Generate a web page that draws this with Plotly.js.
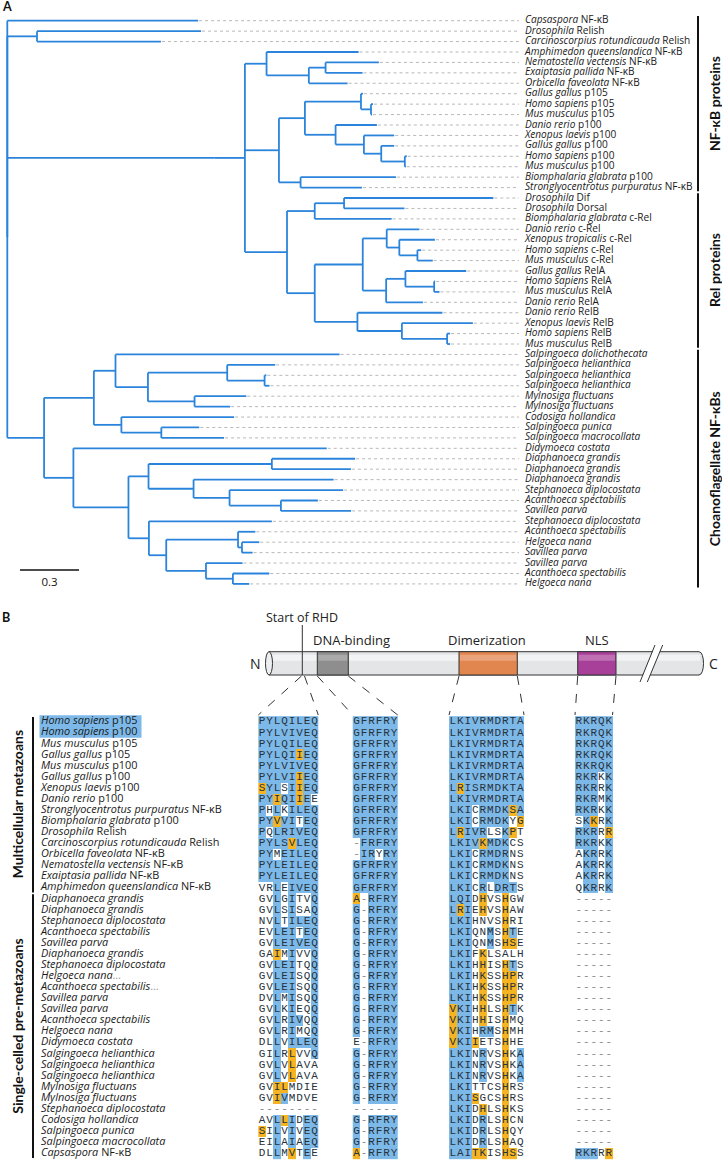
<!DOCTYPE html>
<html><head><meta charset="utf-8">
<script src="https://cdn.plot.ly/plotly-3.0.1.min.js"></script>
<style>html,body{margin:0;padding:0;background:#fff}#chart{width:722px;height:1160px}</style>
</head><body><div id="chart"></div>
<script>
// ---------------- DATA ----------------
// Tree (Newick, branch lengths in substitutions/site; leaf names = row index of tipLabels)
const cladeRelish = "(1:0.834,2:0.630)";
const cladeNFkB = "((3:0.468,((4:0.271,5:0.188):0.085,6:0.197):0.215):0.110,((((7:0.010,(8:0.010,9:0.005):0.051):0.285,(10:0.210,(11:0.154,(12:0.066,(13:0.010,14:0.005):0.120):0.088):0.144):0.156):0.132,(15:0.485,16:0.312):0.110):0.051)";
const cladeRel = "(((17:0.759,18:0.307):0.149,19:0.391):0.141,(((20:0.166,(21:0.181,(22:0.019,23:0.078):0.092):0.064):0.122,((24:0.309,(25:0.005,26:0.027):0.146):0.098,27:0.187):0.119):0.244,(28:0.432,(29:0.361,(30:0.015,31:0.015):0.230):0.226):0.217):0.141)";
const cladeChoanoA = "((32:1.139,((33:0.244,(34:0.009,35:0.025):0.190):0.403,(36:0.263,37:0.181):0.237):0.165):0.110,(38:0.573,(39:0.193,40:0.319):0.203):0.140)";
const cladeChoanoB = "(41:1.288,(((42:0.423,43:0.402):0.627,(44:0.712,(45:0.577,(46:0.188,47:0.357):0.261):0.183):0.229):0.102,(48:0.625,((49:0.088,(50:0.088,51:0.054):0.020):0.365,(52:0.186,(53:0.185,54:0.083):0.137):0.202):0.088):0.104):0.280)";
const treeNewick = "(0:0.970,(" + cladeRelish + ":0.151,(" + cladeNFkB + ":0.122," + cladeRel + ":0.214):0.156):1.052,(" + cladeChoanoA + ":0.253," + cladeChoanoB + ":0.149):0.187);";

const tipLabels = [
 "<i>Capsaspora</i> NF-κB","<i>Drosophila</i> Relish","<i>Carcinoscorpius rotundicauda</i> Relish",
 "<i>Amphimedon queenslandica</i> NF-κB","<i>Nematostella vectensis</i> NF-κB","<i>Exaiptasia pallida</i> NF-κB",
 "<i>Orbicella faveolata</i> NF-κB","<i>Gallus gallus</i> p105","<i>Homo sapiens</i> p105","<i>Mus musculus</i> p105",
 "<i>Danio rerio</i> p100","<i>Xenopus laevis</i> p100","<i>Gallus gallus</i> p100","<i>Homo sapiens</i> p100",
 "<i>Mus musculus</i> p100","<i>Biomphalaria glabrata</i> p100","<i>Stronglyocentrotus purpuratus</i> NF-κB",
 "<i>Drosophila</i> Dif","<i>Drosophila</i> Dorsal","<i>Biomphalaria glabrata</i> c-Rel","<i>Danio rerio</i> c-Rel",
 "<i>Xenopus tropicalis</i> c-Rel","<i>Homo sapiens</i> c-Rel","<i>Mus musculus</i> c-Rel","<i>Gallus gallus</i> RelA",
 "<i>Homo sapiens</i> RelA","<i>Mus musculus</i> RelA","<i>Danio rerio</i> RelA","<i>Danio rerio</i> RelB",
 "<i>Xenopus laevis</i> RelB","<i>Homo sapiens</i> RelB","<i>Mus musculus</i> RelB",
 "<i>Salpingoeca dolichothecata</i>","<i>Salpingoeca helianthica</i>","<i>Salpingoeca helianthica</i>","<i>Salpingoeca helianthica</i>",
 "<i>Mylnosiga fluctuans</i>","<i>Mylnosiga fluctuans</i>","<i>Codosiga hollandica</i>","<i>Salpingoeca punica</i>",
 "<i>Salpingoeca macrocollata</i>","<i>Didymoeca costata</i>","<i>Diaphanoeca grandis</i>","<i>Diaphanoeca grandis</i>",
 "<i>Diaphanoeca grandis</i>","<i>Stephanoeca diplocostata</i>","<i>Acanthoeca spectabilis</i>","<i>Savillea parva</i>",
 "<i>Stephanoeca diplocostata</i>","<i>Acanthoeca spectabilis</i>","<i>Helgoeca nana</i>","<i>Savillea parva</i>",
 "<i>Savillea parva</i>","<i>Acanthoeca spectabilis</i>","<i>Helgoeca nana</i>"
];
const treeGroups = ["NF-κB proteins","Rel proteins","Choanoflagellate NF-κBs"];
const treeGroupFirst = [0,17,32];
const treeGroupLast = [16,31,54];
const scaleBarValue = 0.3;

// Alignment
const alignNames = [
 "<i>Homo sapiens</i> p105","<i>Homo sapiens</i> p100","<i>Mus musculus</i> p105","<i>Gallus gallus</i> p105",
 "<i>Mus musculus</i> p100","<i>Gallus gallus</i> p100","<i>Xenopus laevis</i> p100","<i>Danio rerio</i> p100",
 "<i>Stronglyocentrotus purpuratus</i> NF-κB","<i>Biomphalaria glabrata</i> p100","<i>Drosophila</i> Relish",
 "<i>Carcinoscorpius rotundicauda</i> Relish","<i>Orbicella faveolata</i> NF-κB","<i>Nematostella vectensis</i> NF-κB",
 "<i>Exaiptasia pallida</i> NF-κB","<i>Amphimedon queenslandica</i> NF-κB",
 "<i>Diaphanoeca grandis</i>","<i>Diaphanoeca grandis</i>","<i>Stephanoeca diplocostata</i>","<i>Acanthoeca spectabilis</i>",
 "<i>Savillea parva</i>","<i>Diaphanoeca grandis</i>","<i>Stephanoeca diplocostata</i>","<i>Helgoeca nana</i><span style='color:#999'>…</span>",
 "<i>Acanthoeca spectabilis</i><span style='color:#999'>…</span>","<i>Savillea parva</i>","<i>Savillea parva</i>","<i>Acanthoeca spectabilis</i>",
 "<i>Helgoeca nana</i>","<i>Didymoeca costata</i>","<i>Salgingoeca helianthica</i>","<i>Salgingoeca helianthica</i>",
 "<i>Salgingoeca helianthica</i>","<i>Mylnosiga fluctuans</i>","<i>Mylnosiga fluctuans</i>","<i>Stephanoeca diplocostata</i>",
 "<i>Codosiga hollandica</i>","<i>Salpingoeca punica</i>","<i>Salpingoeca macrocollata</i>","<i>Capsaspora</i> NF-κB"
];
const highlightedNames = [0,1];
const alignGroups = ["Multicellular metazoans","Single-celled pre-metazoans"];
const alignGroupFirst = [0,16];
const alignGroupLast = [15,39];

const seqRHD = ["PYLQILEQ","PYLVIVEQ","PYLQILEQ","PYLQIIEQ","PYLVIVEQ","PYLVIIEQ","SYLSIIEQ","PYIQIIEE","PHLKILEQ","PYVVITEQ",
 "PQLRIVEQ","PYLSVLEQ","PYMEILEQ","PYLEILEQ","PYLEILEQ","VRLEIVEQ","GVLGITVQ","GVLSISAQ","NVLTILEQ","EVLEITEQ",
 "GVLEIVEQ","GAIMIVVQ","GVLEITQQ","GVLEISQQ","GVLEISQQ","DVLMISQQ","GVLKIEQQ","GVLRIVQQ","GVLRIMQQ","DLLVILEQ",
 "GILRLVVQ","GVLVLAVA","GVLVLAVA","GVILMDIE","GVIVMDVE","--------","AVLLIDEQ","SILVIVEQ","EILAIAEQ","DLLMVTEE"];
const hlRHD = ["bbbbbbbb","bbbbbbbb","bbbbbbbb","bbbbbobb","bbbbbbbb","bbbbbobb","obb.bobb","bbobbob.","b.b.bbbb","bbobb.bb",
 "b.bbbbbb","bbbbobbb","bb.bbbbb","bbbbbbbb","bbbbbbbb","..b.bbbb","..b.b..b","..b.b..b","..b.bbbb","..bbb.bb",
 "..bbbbbb","..o.b..b","..bbb..b","..bbb..b","..bbb..b","..b.b..b","..b.b..b","..b.bb.b","..b.b..b","..b.bbbb",
 "..b.o..b","..b.o...","..b.o...","..oo....","..ob....","........","..bob.bb","o.b.b.bb","..b.b.bb","..b.o.b."];

const seqDNA = ["GFRFRY","GFRFRY","GFRFRY","GFRFRY","GFRFRY","GFRFRY","GFRFRY","GFRFRY","GFRFRY","GFRFRY",
 "GFRFRY","-FRFRY","-IRYRY","GFRFRY","GFRFRY","GFRFRY","A-RFRY","G-RFRY","G-RFRY","G-RFRY",
 "G-RFRY","G-RFRY","G-RFRY","G-RFRY","G-RFRY","G-RFRY","G-RFRY","G-RFRY","G-RFRY","E-RFRY",
 "G-RFRY","G-RFRY","G-RFRY","G-RFRY","G-RFRY","------","G-RFRY","G-RFRY","G-RFRY","A-RFRY"];
const hlDNA = ["bbbbbb","bbbbbb","bbbbbb","bbbbbb","bbbbbb","bbbbbb","bbbbbb","bbbbbb","bbbbbb","bbbbbb",
 "bbbbbb",".bbbbb",".bb.bb","bbbbbb","bbbbbb","bbbbbb","o.bbbb","b.bbbb","b.bbbb","b.bbbb",
 "b.bbbb","b.bbbb","b.bbbb","b.bbbb","b.bbbb","b.bbbb","b.bbbb","b.bbbb","b.bbbb","..bbbb",
 "b.bbbb","b.bbbb","b.bbbb","b.bbbb","b.bbbb","......","b.bbbb","b.bbbb","b.bbbb","o.bbbb"];

const seqDim = ["LKIVRMDRTA","LKIVRMDRTA","LKIVRMDRTA","LKIVRMDRTA","LKIVRMDRTA","LKIVRMDRTA","LRISRMDKTA","LKIVRMDRTA","LKICRMDKSA","LKICRMDKYG",
 "LRIVRLSKPT","LKIVKMDKCS","LKICRMDRNS","LKICRMDKNS","LKICRMDKNS","LKICRLDRTS","LQIDHVSHGW","LRIEHVSHAW","LKIHNVSHRI","LKIQNMSHTE",
 "LKIQNMSHSE","LKIFKLSALH","LKIHHISHTS","LKIHKSSHPR","LKIHKSSHPR","LKIHKSSHPR","VKIHHLSHTK","VKIHHISHMQ","VKIHRMSHMH","VKIIETSHHE",
 "LKINRVSHKA","LKINRVSHKA","LKINRVSHKA","LKITTCSHRS","LKISGCSHRS","LKIDHLSHKS","LKIDRLSHCN","LKIDRLSHQY","LKIDRLSHAQ","LAITKISHSS"];
const hlDim = ["bbbbbbbbbb","bbbbbbbbbb","bbbbbbbbbb","bbbbbbbbbb","bbbbbbbbbb","bbbbbbbbbb","bobbbbbbbb","bbbbbbbbbb","bbb.bbbbob","bbb.bbbb.o",
 "bobbb..bo.","bbbbobbb..","bbb.bbbb..","bbb.bbbb..","bbb.bbbb..","bbb.b.bbb.","bbb.o..o..","bob.o..o..","bbb....o..","bbb..b.ob.",
 "bbb..b.oo.","bbb.o.....","bbb.o..ob.","bbb.o..oo.","bbb.o..oo.","bbb.o..oo.","obb.o..ob.","obb.o..o..","obb.bb.o..","obbo...o..",
 "bbb.b..o.b","bbb.b..o.b","bbb.b..o.b","bbb....o..","bbbo...o..","bbb.o..o..","bbb.b..o..","bbb.b..o..","bbb.b..o..","bbboo..oo."];

const seqNLS = ["RKRQK","RKRQK","RKRQK","RKRQK","RKRQK","RKRKK","RKRRK","RKRMK","RKRKK","SKKRK",
 "RKRRR","RKRKK","AKRRK","AKRRK","AKRRK","QKRRK","-----","-----","-----","-----",
 "-----","-----","-----","-----","-----","-----","-----","-----","-----","-----",
 "-----","-----","-----","-----","-----","-----","-----","-----","-----","RKRRR"];
const hlNLS = ["bbbbb","bbbbb","bbbbb","bbbbb","bbbbb","bbb.b","bbb.b","bbb.b","bbb.b",".bo.b",
 "bbb.o","bbb.b",".bb.b",".bb.b",".bb.b",".bb.b",".....",".....",".....",".....",
 ".....",".....",".....",".....",".....",".....",".....",".....",".....",".....",
 ".....",".....",".....",".....",".....",".....",".....",".....",".....","bbb.o"];

const domainNames = ["DNA-binding","Dimerization","NLS"];

// ---------------- LAYOUT CONSTANTS ----------------
const W = 722, H = 1160;
const TREE_X0 = 7.3, TREE_UNIT = 196.7, TREE_ROW0 = 20.7, TREE_ROW = 10.43;
const AL_X0 = 258.3, AL_CHAR = 7.5, AL_ROW0 = 721.7, AL_ROW = 11.07;
const uPx = px => (px - TREE_X0) / TREE_UNIT;
const rPx = py => (py - TREE_ROW0) / TREE_ROW;
const cPx = px => (px - AL_X0) / AL_CHAR;
const aPx = py => (py - AL_ROW0) / AL_ROW;
const blockStart = [0, 12.59, 25.43, 42.23];
const BLUE = "#7db9e8", ORANGE = "#f6b423", TREE_BLUE = "#2b84dc";
const SANS = "'Open Sans', Lato, sans-serif";
const BOLD = "Lato, 'Open Sans', sans-serif";
const MONO = "'Liberation Mono', 'DejaVu Sans Mono', monospace";

// ---------------- TREE ----------------
function parseNewick(s) {
  let i = 0;
  function node() {
    const n = {children: []};
    if (s[i] === '(') {
      i++; n.children.push(node());
      while (s[i] === ',') { i++; n.children.push(node()); }
      i++;
    }
    let name = '';
    while (i < s.length && !':,);'.includes(s[i])) name += s[i++];
    n.name = name;
    if (s[i] === ':') { i++; let num = ''; while (i < s.length && !',);'.includes(s[i])) num += s[i++]; n.len = parseFloat(num); }
    else n.len = 0;
    return n;
  }
  return node();
}
const root = parseNewick(treeNewick);
const leaves = [];
function place(n, px) {
  n.x = px + n.len;
  if (!n.children.length) { n.y = parseInt(n.name, 10); leaves.push(n); }
  else { n.children.forEach(c => place(c, n.x)); n.y = (n.children[0].y + n.children[n.children.length - 1].y) / 2; }
}
place(root, 0);
const bx = [], by = [];
(function seg(n) {
  if (!n.children.length) return;
  const f = n.children[0], l = n.children[n.children.length - 1];
  bx.push(n.x, n.x, null); by.push(f.y, l.y, null);
  n.children.forEach(c => { bx.push(n.x, c.x, null); by.push(c.y, c.y, null); seg(c); });
})(root);

const DOT_END = uPx(519), LABEL_X = uPx(525);
const dx = [], dy = [];
leaves.forEach(lf => { if (DOT_END > lf.x + 0.01) { dx.push(lf.x + 0.005, DOT_END, null); dy.push(lf.y, lf.y, null); } });

const traces = [];
traces.push({type:'scatter', mode:'lines', x:dx, y:dy, xaxis:'x', yaxis:'y', line:{color:'#b8b8b8', width:1, dash:'dot'}, hoverinfo:'skip', showlegend:false});
traces.push({type:'scatter', mode:'lines', x:bx, y:by, xaxis:'x', yaxis:'y', line:{color:TREE_BLUE, width:1.8}, hoverinfo:'skip', showlegend:false});
traces.push({type:'scatter', mode:'text', x:leaves.map(() => LABEL_X), y:leaves.map(l => l.y),
  text:leaves.map(l => tipLabels[l.y]), textposition:'middle right',
  textfont:{family:SANS, size:10.1, color:'#1a1a1a'}, xaxis:'x', yaxis:'y', hoverinfo:'skip', showlegend:false});
// scale bar
const sbX0 = uPx(20);
const sbRow = rPx(570);
traces.push({type:'scatter', mode:'lines', x:[sbX0, sbX0 + scaleBarValue], y:[sbRow, sbRow], xaxis:'x', yaxis:'y',
  line:{color:'#111', width:1.5}, hoverinfo:'skip', showlegend:false});
traces.push({type:'scatter', mode:'text', x:[sbX0 + scaleBarValue / 2], y:[rPx(583)], text:[String(scaleBarValue)],
  textposition:'middle center', textfont:{family:SANS, size:11.5, color:'#111'}, xaxis:'x', yaxis:'y', hoverinfo:'skip', showlegend:false});

// ---------------- ALIGNMENT ----------------
const blocks = [[seqRHD, hlRHD], [seqDNA, hlDNA], [seqDim, hlDim], [seqNLS, hlNLS]];
const tx = [], ty = [], tt = [], tc = [];
blocks.forEach(([seqs, masks], b) => {
  const n = seqs[0].length, st = blockStart[b];
  const xs = []; for (let i = 0; i < n; i++) xs.push(st + i + 0.5);
  const z = masks.map(m => m.split('').map(ch => ch === 'b' ? 1 : ch === 'o' ? 2 : null));
  traces.push({type:'heatmap', x:xs, y:seqs.map((_, r) => r), z:z, xaxis:'x2', yaxis:'y2',
    colorscale:[[0, BLUE], [0.5, BLUE], [0.5, ORANGE], [1, ORANGE]], zmin:1, zmax:2, showscale:false, hoverinfo:'skip'});
  seqs.forEach((s, r) => s.split('').forEach((ch, i) => {
    tx.push(st + i + 0.5); ty.push(r); tt.push(ch); tc.push(ch === '-' ? '#8a8a8a' : '#28323c');
  }));
});
traces.push({type:'scatter', mode:'text', x:tx, y:ty, text:tt, textposition:'middle center',
  textfont:{family:MONO, size:11, color:tc}, xaxis:'x2', yaxis:'y2', hoverinfo:'skip', showlegend:false});
traces.push({type:'scatter', mode:'text', x:alignNames.map(() => cPx(41)), y:alignNames.map((_, r) => r), text:alignNames,
  textposition:'middle right', textfont:{family:SANS, size:10.9, color:'#1a1a1a'}, xaxis:'x2', yaxis:'y2', hoverinfo:'skip', showlegend:false});
// dummy for pixel overlay axes
traces.push({type:'scatter', mode:'markers', x:[0], y:[0], marker:{opacity:0}, xaxis:'x3', yaxis:'y3', hoverinfo:'skip', showlegend:false});

// ---------------- SHAPES & ANNOTATIONS ----------------
const shapes = [], annotations = [];
// tree group brackets
treeGroups.forEach((g, k) => {
  const y0 = treeGroupFirst[k] - 0.45, y1 = treeGroupLast[k] + 0.35;
  shapes.push({type:'line', xref:'x', yref:'y', x0:uPx(698), x1:uPx(698), y0:y0, y1:y1, line:{color:'#111', width:2}});
  annotations.push({xref:'x', yref:'y', x:uPx(714.5), y:(y0 + y1) / 2, text:'<b>' + g + '</b>', textangle:-90, showarrow:false,
    font:{family:BOLD, size:14, color:'#111'}});
});
// alignment group bars
alignGroups.forEach((g, k) => {
  const y0 = alignGroupFirst[k] - 0.42, y1 = alignGroupLast[k] + 0.42;
  shapes.push({type:'line', xref:'x2', yref:'y2', x0:cPx(33), x1:cPx(33), y0:y0, y1:y1, line:{color:'#111', width:2}});
  annotations.push({xref:'x2', yref:'y2', x:cPx(17.5), y:(y0 + y1) / 2, text:'<b>' + g + '</b>', textangle:-90, showarrow:false,
    font:{family:BOLD, size:14, color:'#111'}});
});
// name highlight
shapes.push({type:'rect', layer:'below', xref:'x2', yref:'y2', x0:cPx(39.5), x1:cPx(141.5),
  y0:highlightedNames[0] - 0.58, y1:highlightedNames[highlightedNames.length - 1] + 0.45, fillcolor:BLUE, line:{width:0}});

// panel letters
annotations.push({xref:'x3', yref:'y3', x:0, y:6, xanchor:'left', yanchor:'middle', text:'<b>A</b>', showarrow:false, font:{family:BOLD, size:12.5, color:'#111'}});
annotations.push({xref:'x3', yref:'y3', x:0, y:617, xanchor:'left', yanchor:'middle', text:'<b>B</b>', showarrow:false, font:{family:BOLD, size:12.5, color:'#111'}});

// protein diagram (pixel overlay axis)
const BAR_T = 651.7, BAR_B = 675;
shapes.push({type:'path', xref:'x3', yref:'y3', path:`M 269 ${BAR_T} L 699 ${BAR_T} C 705 ${BAR_T} 705 ${BAR_B} 699 ${BAR_B} L 269 ${BAR_B} Z`,
  fillcolor:'#e3e5e7', line:{color:'#333', width:1}});
shapes.push({type:'rect', xref:'x3', yref:'y3', x0:270, x1:700, y0:BAR_T + 3, y1:BAR_T + 9, fillcolor:'rgba(255,255,255,0.55)', line:{width:0}});
shapes.push({type:'circle', xref:'x3', yref:'y3', x0:265.5, x1:272.5, y0:BAR_T, y1:BAR_B, fillcolor:'#eceef0', line:{color:'#333', width:1}});
const domX0 = [317.3, 459, 577.7], domX1 = [348.3, 517.3, 616];
const domFill = ['#8e8e8e', '#e2864f', '#a8409a'];
const domLabelX = [351.7, 487.3, 596.7];
domainNames.forEach((d, k) => {
  shapes.push({type:'rect', xref:'x3', yref:'y3', x0:domX0[k], x1:domX1[k], y0:BAR_T, y1:BAR_B, fillcolor:domFill[k], line:{color:'#333', width:1}});
  shapes.push({type:'rect', xref:'x3', yref:'y3', x0:domX0[k] + 1, x1:domX1[k] - 1, y0:BAR_T + 3, y1:BAR_T + 9, fillcolor:'rgba(255,255,255,0.25)', line:{width:0}});
  annotations.push({xref:'x3', yref:'y3', x:domLabelX[k], y:639.5, text:d, showarrow:false, font:{family:SANS, size:13, color:'#222'}});
});
// start of RHD
shapes.push({type:'line', xref:'x3', yref:'y3', x0:302.3, x1:302.3, y0:625, y1:BAR_B, line:{color:'#333', width:1}});
annotations.push({xref:'x3', yref:'y3', x:301.7, y:617, text:'Start of RHD', showarrow:false, font:{family:SANS, size:12.5, color:'#222'}});
annotations.push({xref:'x3', yref:'y3', x:255.5, y:663.5, text:'N', showarrow:false, font:{family:SANS, size:14, color:'#222'}});
annotations.push({xref:'x3', yref:'y3', x:713.5, y:663.5, text:'C', showarrow:false, font:{family:SANS, size:14, color:'#222'}});
// break
shapes.push({type:'path', xref:'x3', yref:'y3', path:'M 641 680 L 655 646.5 L 662 646.5 L 648 680 Z', fillcolor:'#ffffff', line:{width:0}});
shapes.push({type:'line', xref:'x3', yref:'y3', x0:640, y0:682, x1:655, y1:645, line:{color:'#333', width:1}});
shapes.push({type:'line', xref:'x3', yref:'y3', x0:647.3, y0:682, x1:662.7, y1:645, line:{color:'#333', width:1}});
// dashed connectors: diagram boundaries -> alignment block edges
const connTop = [301.5, 304.5, 317.3, 348.3, 459, 517.3, 577.7, 616];
const blockLen = [8, 6, 10, 5];
const connBottom = [];
blockStart.forEach((st, b) => { connBottom.push(AL_X0 + AL_CHAR * st, AL_X0 + AL_CHAR * (st + blockLen[b])); });
connTop.forEach((x, k) => shapes.push({type:'line', xref:'x3', yref:'y3', x0:x, y0:BAR_B + 1, x1:connBottom[k], y1:715,
  line:{color:'#333', width:1, dash:'dash'}}));

const ax = (range, extra) => Object.assign({range:range, visible:false, fixedrange:true, showgrid:false, zeroline:false, domain:[0, 1]}, extra || {});
const layout = {
  width:W, height:H, margin:{l:0, r:0, t:0, b:0}, paper_bgcolor:'#ffffff', plot_bgcolor:'rgba(0,0,0,0)', showlegend:false,
  xaxis:ax([uPx(0), uPx(W)], {anchor:'y'}), yaxis:ax([rPx(H), rPx(0)], {anchor:'x'}),
  xaxis2:ax([cPx(0), cPx(W)], {anchor:'y2'}), yaxis2:ax([aPx(H), aPx(0)], {anchor:'x2'}),
  xaxis3:ax([0, W], {anchor:'y3'}), yaxis3:ax([H, 0], {anchor:'x3'}),
  shapes:shapes, annotations:annotations
};
Plotly.newPlot('chart', traces, layout, {staticPlot:true, displayModeBar:false});
</script></body></html>
